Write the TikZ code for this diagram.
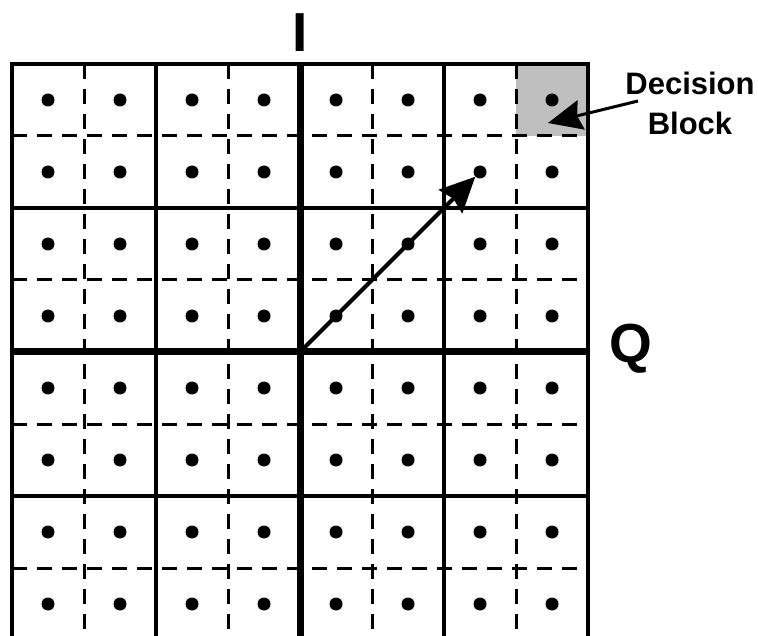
\documentclass[tikz,border=0pt]{standalone}
\usepackage{fontspec}
\setmainfont{Liberation Sans}
\usetikzlibrary{arrows.meta}
\begin{document}
\begin{tikzpicture}[x=1pt,y=-1pt,
  solidline/.style={line width=4pt},
  axisline/.style={line width=7pt},
  dashline/.style={line width=3pt,dash pattern=on 15pt off 10pt},
  dotnode/.style={circle,fill=black,inner sep=0pt,minimum size=13pt},
  bigarrow/.style={line width=4pt,-{Stealth[length=35pt,width=33pt,inset=4pt]}},
  lbl/.style={font=\bfseries\fontsize{31}{40}\selectfont,align=center,inner sep=0pt},
  axlbl/.style={font=\bfseries\fontsize{55}{60}\selectfont,inner sep=0pt}]
\useasboundingbox (0,0) rectangle (758,636);
\clip (0,0) rectangle (758,636);
% decision block fill
\fill[gray!50] (516,64) rectangle (588,136);
% dashed lines
\foreach \i in {0,...,3}{
  \draw[dashline] (12+144*\i+72,64) -- (12+144*\i+72,640);
  \draw[dashline] (12,64+144*\i+72) -- (588,64+144*\i+72);
}
% solid lines
\foreach \i in {0,1,3,4}{
  \draw[solidline] (12+144*\i,62) -- (12+144*\i,640);
  \draw[solidline] (10,64+144*\i) -- (590,64+144*\i);
}
% axes
\draw[axisline] (300,64) -- (300,640);
\draw[axisline] (10,352) -- (590,352);
\node[axlbl] (I) at (300.5,33) {I};
\node[axlbl] (Q) at (631,349) {Q};
\coordinate (O) at (300,352);
% dots
\foreach \c in {1,...,8}{
  \foreach \r in {1,...,8}{
    \node[dotnode] (d-\c-\r) at (12+72*\c-36,64+72*\r-36) {};
  }
}
% arrows
\draw[bigarrow] (O) -- (d-7-2);
\node[lbl] (db) at (690,103) {Decision\\Block};
\coordinate (dbt) at (548,123);
\draw[line width=3pt,-{Stealth[length=34pt,width=30pt,inset=4pt]}] (638,101) -- (dbt);
\end{tikzpicture}
\end{document}
